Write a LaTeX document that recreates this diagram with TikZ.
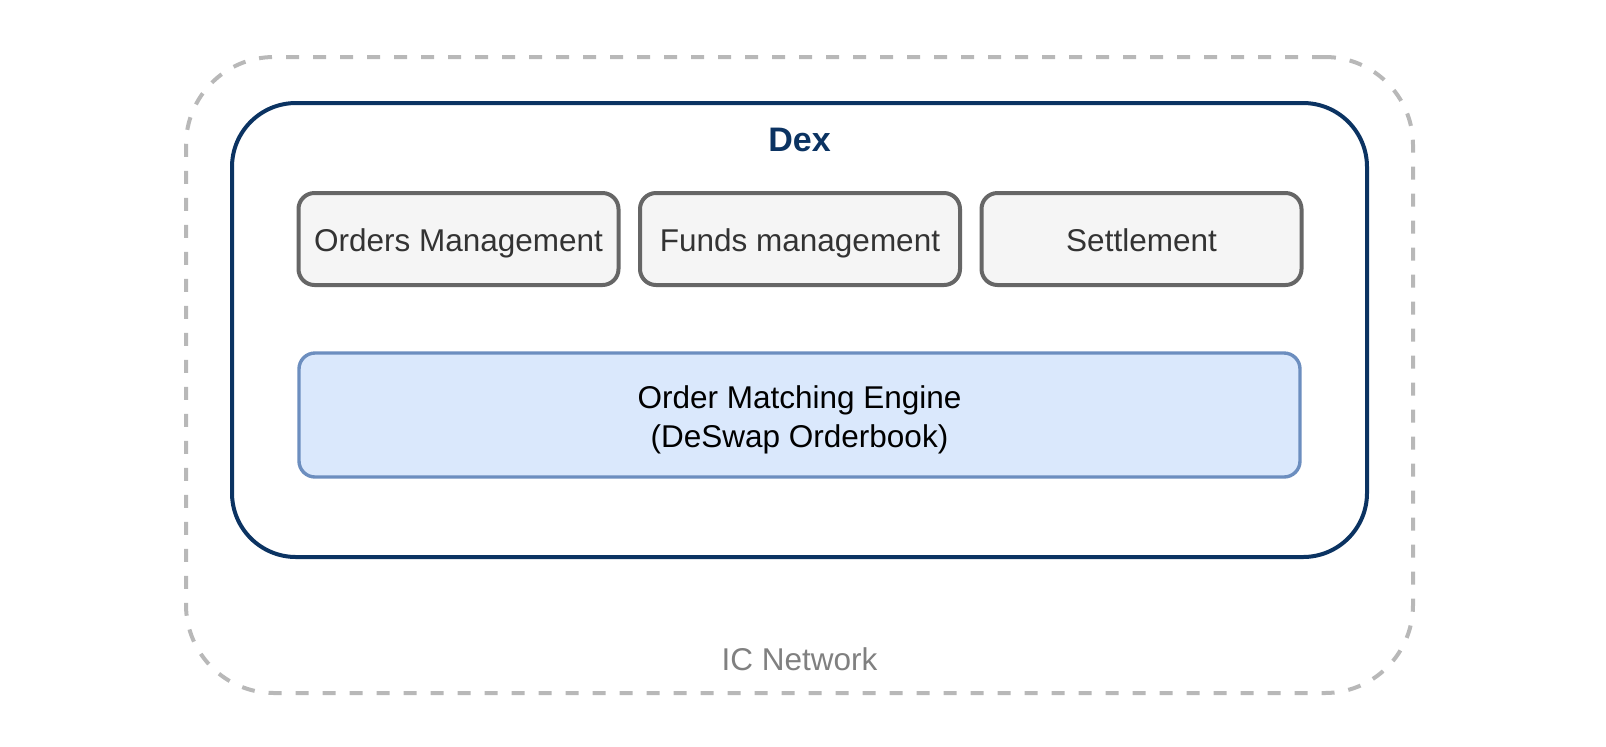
\documentclass[tikz,border=0pt]{standalone}
\usepackage{fontspec}
\setmainfont{Liberation Sans}
\definecolor{navy}{HTML}{0B3362}
\definecolor{boxfill}{HTML}{F5F5F5}
\definecolor{boxline}{HTML}{666666}
\definecolor{boxtext}{HTML}{333333}
\definecolor{blfill}{HTML}{DAE8FC}
\definecolor{blline}{HTML}{6C8EBF}
\definecolor{dashgray}{HTML}{B8B8B8}
\definecolor{labelgray}{HTML}{808080}
\tikzset{
  outerbox/.style={draw=dashgray, line width=2pt, dash pattern=on 6.5pt off 7pt, rounded corners=44pt, minimum width=613.5pt, minimum height=318pt, inner sep=0pt},
  dexbox/.style={draw=navy, line width=2pt, fill=white, rounded corners=32pt, minimum width=567.5pt, minimum height=227pt, inner sep=0pt},
  graybox/.style={draw=boxline, fill=boxfill, line width=2pt, rounded corners=8pt, minimum width=160pt, minimum height=46pt, inner sep=0pt, text height=15pt, text depth=3pt, text=boxtext, font=\fontsize{15.75}{19.5}\selectfont},
  bluebox/.style={draw=blline, fill=blfill, line width=1.7pt, rounded corners=8pt, minimum width=500.5pt, minimum height=62pt, inner sep=0pt},
  bluetext/.style={align=center, text=black, inner sep=0pt, font=\fontsize{15.75}{19.5}\selectfont},
  dexlabel/.style={font=\bfseries\fontsize{17}{20}\selectfont, text=navy, anchor=base, inner sep=0pt},
  iclabel/.style={font=\fontsize{15.75}{19.5}\selectfont, text=labelgray, anchor=base, inner sep=0pt}
}
\begin{document}
\begin{tikzpicture}[x=0.5pt,y=-0.5pt]
\useasboundingbox (0,0) rectangle (1606,746);
\node[outerbox] (ic) at (799.5,375) {};
\node[iclabel] (iclbl) at (799.5,670) {IC Network};
\node[dexbox] (dex) at (799.5,330) {};
\node[dexlabel] (dexlbl) at (799.5,151) {Dex};
\node[graybox] (orders) at (458.5,239) {Orders Management};
\node[graybox] (funds) at (800,239) {Funds management};
\node[graybox] (settle) at (1141.5,239) {Settlement};
\node[bluebox] (ome) at (799.5,415) {};
\node[bluetext] (omelbl) at (799.5,419.5) {Order Matching Engine\\ (DeSwap Orderbook)};
\end{tikzpicture}
\end{document}
